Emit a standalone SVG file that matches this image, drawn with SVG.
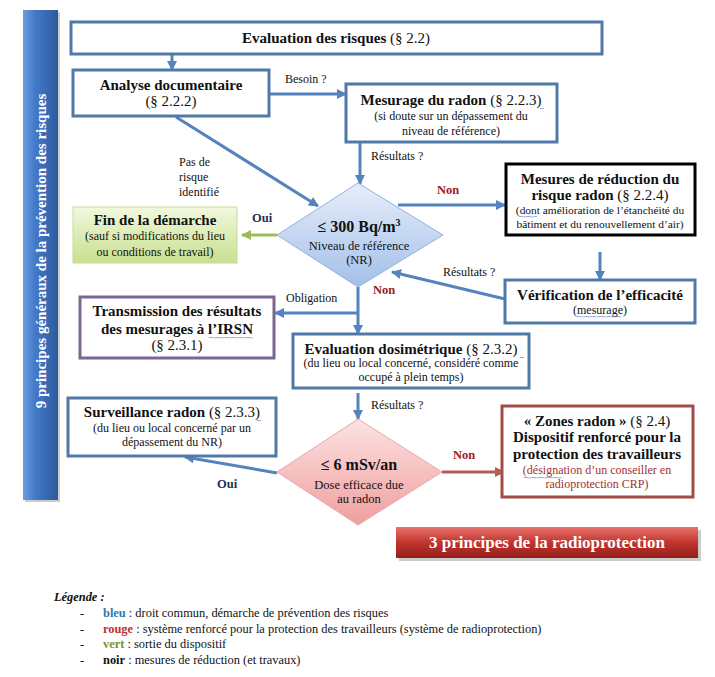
<svg xmlns="http://www.w3.org/2000/svg" width="715" height="677" viewBox="0 0 715 677" font-family="'Liberation Serif', Tinos, 'Times New Roman', 'DejaVu Serif', 'Noto Serif', serif">
<defs>
<style>
text{font-family:'Liberation Serif', Tinos, 'Times New Roman', 'DejaVu Serif', 'Noto Serif', serif;fill:#111;}
.t{font-size:15px;}
.b{font-weight:bold;}
.s{font-size:12px;}
.xs{font-size:11.4px;}
.c{text-anchor:middle;}
.box{fill:#fff;stroke:#5079a8;stroke-width:3;}
.con{fill:none;stroke:#5483bd;stroke-width:3;}
.red{fill:#9c2020;font-weight:bold;font-size:12.5px;}
.oui{fill:#1f2f55;font-weight:bold;font-size:12.5px;}
.lg{font-size:12.4px;}
.sq{fill:none;stroke:#3d5fd0;stroke-width:0.8;stroke-dasharray:1 0.8;}
</style>
<marker id="ab" viewBox="0 0 10 10" refX="9" refY="5" markerWidth="10" markerHeight="10" markerUnits="userSpaceOnUse" orient="auto"><path d="M0,0 L10,5 L0,10 z" fill="#5483bd"/></marker>
<marker id="ag" viewBox="0 0 10 10" refX="9" refY="5" markerWidth="10" markerHeight="10" markerUnits="userSpaceOnUse" orient="auto"><path d="M0,0 L10,5 L0,10 z" fill="#9bbb59"/></marker>
<marker id="ar" viewBox="0 0 10 10" refX="9" refY="5" markerWidth="10" markerHeight="10" markerUnits="userSpaceOnUse" orient="auto"><path d="M0,0 L10,5 L0,10 z" fill="#b85a57"/></marker>
<linearGradient id="gbar" x1="0" y1="0" x2="1" y2="0"><stop offset="0" stop-color="#6d9be0"/><stop offset="0.35" stop-color="#4479c8"/><stop offset="1" stop-color="#2c5a9c"/></linearGradient>
<linearGradient id="gred" x1="0" y1="0" x2="0" y2="1"><stop offset="0" stop-color="#e8736c"/><stop offset="0.5" stop-color="#c2342e"/><stop offset="1" stop-color="#951f1b"/></linearGradient>
<linearGradient id="ggreen" x1="0" y1="0" x2="0" y2="1"><stop offset="0" stop-color="#f1f8de"/><stop offset="1" stop-color="#c9e08f"/></linearGradient>
<linearGradient id="gd1" x1="0" y1="0" x2="0" y2="1"><stop offset="0" stop-color="#e6eefa"/><stop offset="1" stop-color="#a3bfe9"/></linearGradient>
<linearGradient id="gd2" x1="0" y1="0" x2="0" y2="1"><stop offset="0" stop-color="#fde2e2"/><stop offset="1" stop-color="#f09e9e"/></linearGradient>
</defs>
<rect width="715" height="677" fill="#fff"/>

<g id="bar-prevention">
<rect x="25" y="12" width="35" height="490" fill="#9a9a9a" opacity="0.5"/>
<rect x="23" y="10" width="35" height="490" fill="url(#gbar)"/>
<text transform="translate(46,251) rotate(-90)" class="c b" style="font-size:15px;fill:#fff">9 principes généraux de la prévention des risques</text>
</g>

<g id="connectors">
<line class="con" x1="172" y1="55" x2="172" y2="70" marker-end="url(#ab)"/>
<line class="con" x1="269" y1="94" x2="346" y2="94" marker-end="url(#ab)"/>
<line class="con" x1="176" y1="117" x2="318" y2="206" marker-end="url(#ab)"/>
<line class="con" x1="360" y1="142" x2="360" y2="184" marker-end="url(#ab)"/>
<line class="con" x1="398" y1="205" x2="505" y2="205" marker-end="url(#ab)"/>
<line class="con" x1="600" y1="252" x2="600" y2="280" marker-end="url(#ab)"/>
<line class="con" x1="505" y1="299" x2="392" y2="272" marker-end="url(#ab)"/>
<line class="con" style="stroke:#9bbb59" x1="277" y1="235" x2="242" y2="235" marker-end="url(#ag)"/>
<line class="con" x1="358" y1="287" x2="358" y2="334" marker-end="url(#ab)"/>
<line class="con" x1="358" y1="313" x2="275" y2="313" marker-end="url(#ab)"/>
<line class="con" x1="358" y1="393" x2="358" y2="419" marker-end="url(#ab)"/>
<line class="con" x1="277" y1="473" x2="185" y2="457" marker-end="url(#ab)"/>
<line class="con" style="stroke:#b85a57" x1="442" y1="472" x2="504" y2="472" marker-end="url(#ar)"/>
<text class="s" x="285" y="83">Besoin ?</text>
<text class="s" x="179" y="166">Pas de</text>
<text class="s" x="179" y="181">risque</text>
<text class="s" x="179" y="196">identifié</text>
<text class="s" x="371" y="160">Résultats  ?</text>
<text class="red" x="437" y="194">Non</text>
<text class="oui" x="252" y="222">Oui</text>
<text class="s" x="443" y="276">Résultats  ?</text>
<text class="red" x="373" y="294">Non</text>
<text class="s" x="286" y="302">Obligation</text>
<text class="s" x="371" y="409">Résultats  ?</text>
<text class="oui" x="217" y="488">Oui</text>
<text class="red" x="453" y="459">Non</text>
</g>

<g id="evaluation-risques">
<rect class="box" x="71" y="22" width="531" height="32"/>
<text class="t c" x="336" y="43"><tspan class="b">Evaluation des risques</tspan> (§ 2.2)</text>
</g>

<g id="analyse-documentaire">
<rect class="box" x="73" y="70" width="196" height="46"/>
<text class="t c b" x="171" y="90">Analyse documentaire</text>
<text class="t c" x="171" y="106">(§ 2.2.2)</text>
</g>

<g id="mesurage-radon">
<rect class="box" x="346" y="84" width="211" height="58"/>
<text class="t c" x="451" y="105"><tspan class="b">Mesurage du radon</tspan> (§ 2.2.3)</text>
<text class="s c" x="451" y="120">(si doute sur un dépassement du</text>
<text class="s c" x="451" y="135">niveau de référence)</text>
<path class="sq" d="M540,108 l1,1.2 l1,-1.2 l1,1.2 l1,-1.2"/>
</g>

<g id="decision-300">
<polygon points="358,183 443,235 358,287 277,235" fill="url(#gd1)" stroke="#93b1dd" stroke-width="1"/>
<text class="c b" style="font-size:16px" x="359" y="232">≤ 300 Bq/m<tspan dy="-6" style="font-size:10px">3</tspan></text>
<text class="c" style="font-size:12.5px" x="359" y="250">Niveau de référence</text>
<text class="c" style="font-size:12.5px" x="359" y="264">(NR)</text>
</g>

<g id="mesures-reduction">
<rect x="506" y="164" width="189" height="71" fill="#fff" stroke="#000" stroke-width="3"/>
<text class="t c b" x="600" y="184">Mesures de réduction du</text>
<text class="t c" x="600" y="200"><tspan class="b">risque radon</tspan> (§ 2.2.4)</text>
<text class="xs c" x="600" y="214">(dont amélioration de l’étanchéité du</text>
<text class="xs c" x="600" y="228">bâtiment et du renouvellement d’air)</text>
<path class="sq" d="M519,216 l1,1.2 l1,-1.2 l1,1.2 l1,-1.2 l1,1.2 l1,-1.2 l1,1.2 l1,-1.2 l1,1.2 l1,-1.2 l1,1.2 l1,-1.2 l1,1.2 l1,-1.2 l1,1.2 l1,-1.2 l1,1.2 l1,-1.2"/>
</g>

<g id="verification">
<rect class="box" x="505" y="280" width="190" height="43"/>
<text class="t c b" x="600" y="300">Vérification de l’efficacité</text>
<text class="s c" x="600" y="314">(mesurage)</text>
<path class="sq" d="M577,316 l1,1.2 l1,-1.2 l1,1.2 l1,-1.2 l1,1.2 l1,-1.2 l1,1.2 l1,-1.2 l1,1.2 l1,-1.2 l1,1.2 l1,-1.2 l1,1.2 l1,-1.2 l1,1.2 l1,-1.2 l1,1.2 l1,-1.2 l1,1.2 l1,-1.2 l1,1.2 l1,-1.2 l1,1.2 l1,-1.2 l1,1.2 l1,-1.2 l1,1.2 l1,-1.2 l1,1.2 l1,-1.2 l1,1.2 l1,-1.2 l1,1.2 l1,-1.2 l1,1.2 l1,-1.2 l1,1.2 l1,-1.2 l1,1.2 l1,-1.2 l1,1.2 l1,-1.2 l1,1.2 l1,-1.2"/>
</g>

<g id="fin-demarche">
<rect x="73" y="207" width="164" height="56" fill="url(#ggreen)" stroke="#c5dc95" stroke-width="1"/>
<text class="t c b" x="155" y="225">Fin de la démarche</text>
<text class="s c" x="155" y="240">(sauf si modifications  du lieu</text>
<text class="s c" x="155" y="256">ou conditions  de travail)</text>
</g>

<g id="transmission-irsn">
<rect x="80" y="297" width="194" height="61" fill="#fff" stroke="#7b6790" stroke-width="3"/>
<text class="t c b" x="177" y="316">Transmission des résultats</text>
<text class="t c b" x="177" y="334">des mesurages à l’IRSN</text>
<text class="t c" x="177" y="350">(§ 2.3.1)</text>
<path class="sq" d="M209,337 l1,1.2 l1,-1.2 l1,1.2 l1,-1.2 l1,1.2 l1,-1.2 l1,1.2 l1,-1.2 l1,1.2 l1,-1.2 l1,1.2 l1,-1.2 l1,1.2 l1,-1.2 l1,1.2 l1,-1.2 l1,1.2 l1,-1.2 l1,1.2 l1,-1.2 l1,1.2 l1,-1.2 l1,1.2 l1,-1.2 l1,1.2 l1,-1.2 l1,1.2 l1,-1.2 l1,1.2 l1,-1.2 l1,1.2 l1,-1.2 l1,1.2 l1,-1.2 l1,1.2 l1,-1.2 l1,1.2 l1,-1.2 l1,1.2 l1,-1.2 l1,1.2 l1,-1.2 l1,1.2 l1,-1.2"/>
</g>

<g id="evaluation-dosimetrique">
<rect class="box" x="293" y="334" width="236" height="54"/>
<text class="t c" x="411" y="354"><tspan class="b">Evaluation dosimétrique</tspan> (§ 2.3.2)</text>
<text class="s c" x="411" y="367">(du lieu ou local concerné, considéré comme</text>
<text class="s c" x="411" y="381">occupé à plein temps)</text>
<path class="sq" d="M520,357 l1,1.2 l1,-1.2 l1,1.2 l1,-1.2"/>
</g>

<g id="decision-6msv">
<polygon points="358,419 442,472 358,525 277,472" fill="url(#gd2)" stroke="#eaa7a7" stroke-width="1"/>
<text class="c b" style="font-size:16px" x="359" y="470">≤ 6 mSv/an</text>
<text class="c" style="font-size:12.5px" x="359" y="489">Dose efficace  due</text>
<text class="c" style="font-size:12.5px" x="359" y="503">au radon</text>
</g>

<g id="surveillance-radon">
<rect class="box" x="68" y="398" width="208" height="58"/>
<text class="t c" x="172" y="417"><tspan class="b">Surveillance radon</tspan> (§ 2.3.3)</text>
<text class="s c" x="172" y="432">(du lieu ou local concerné par un</text>
<text class="s c" x="172" y="446">dépassement du NR)</text>
<path class="sq" d="M257,420 l1,1.2 l1,-1.2 l1,1.2 l1,-1.2"/>
</g>

<g id="zones-radon">
<rect x="502" y="406" width="191" height="91" fill="#fff" stroke="#a14d4a" stroke-width="3"/>
<text class="t c" x="597" y="426"><tspan class="b">« Zones radon »</tspan> (§ 2.4)</text>
<text class="t c b" x="597" y="442">Dispositif renforcé pour la</text>
<text class="t c b" x="597" y="459">protection des travailleurs</text>
<text class="s c" style="fill:#a3302c" x="597" y="474">(désignation  d’un conseiller  en</text>
<text class="s c" style="fill:#a3302c" x="597" y="488">radioprotection  CRP)</text>
<path class="sq" d="M524,477 l1,1.2 l1,-1.2 l1,1.2 l1,-1.2 l1,1.2 l1,-1.2 l1,1.2 l1,-1.2 l1,1.2 l1,-1.2 l1,1.2 l1,-1.2 l1,1.2 l1,-1.2 l1,1.2 l1,-1.2 l1,1.2 l1,-1.2 l1,1.2 l1,-1.2 l1,1.2 l1,-1.2 l1,1.2 l1,-1.2 l1,1.2 l1,-1.2 l1,1.2 l1,-1.2 l1,1.2 l1,-1.2 l1,1.2 l1,-1.2 l1,1.2 l1,-1.2 l1,1.2 l1,-1.2 l1,1.2 l1,-1.2"/>
</g>

<g id="bar-radioprotection">
<rect x="399" y="530" width="302" height="31" fill="#999" opacity="0.5"/>
<rect x="396" y="527" width="302" height="31" fill="url(#gred)"/>
<text class="c b" style="font-size:17px;fill:#fff" x="547" y="548">3 principes de la radioprotection</text>
</g>

<g id="legende">
<text class="lg b" style="font-style:italic" x="54" y="601">Légende :</text>
<text class="lg" x="80" y="617">-</text>
<text class="lg" x="103" y="617"><tspan class="b" style="fill:#2f7ab0">bleu</tspan> : droit commun, démarche de prévention des risques</text>
<text class="lg" x="80" y="633">-</text>
<text class="lg" x="103" y="633"><tspan class="b" style="fill:#c0302b">rouge</tspan> : système renforcé pour la protection des travailleurs (système de radioprotection)</text>
<text class="lg" x="80" y="648">-</text>
<text class="lg" x="103" y="648"><tspan class="b" style="fill:#76923c">vert</tspan> : sortie du dispositif</text>
<text class="lg" x="80" y="664">-</text>
<text class="lg" x="103" y="664"><tspan class="b">noir</tspan> : mesures de réduction (et travaux)</text>
</g>
</svg>
